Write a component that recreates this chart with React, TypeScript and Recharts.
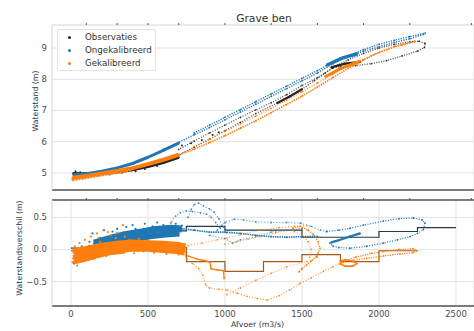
import React from 'react';
import { ComposedChart, Scatter, Line, XAxis, YAxis, CartesianGrid } from 'recharts';

type Pt = [number, number];

const FONT = '"DejaVu Sans", sans-serif';
const BLAUW = '#1f77b4';
const ORANJE = '#ff7f0e';
const ZWART = '#262626';
const STAP_ONG = '#26394a';
const STAP_GEK = '#a65a1c';

// as-ticks
const afvoerTicks = [0, 500, 1000, 1500, 2000, 2500];
const kleineTicks = [-100, 0, 100, 200, 300, 400, 500, 600, 700, 800, 900, 1000, 1100, 1200, 1300, 1400, 1500, 1600, 1700, 1800, 1900, 2000, 2100, 2200, 2300, 2400, 2500, 2600];
const waterstandTicks = [5, 6, 7, 8, 9];
const verschilTicks = [-0.5, 0, 0.5];

const legenda = [
  { naam: 'Observaties', kleur: ZWART },
  { naam: 'Ongekalibreerd', kleur: BLAUW },
  { naam: 'Gekalibreerd', kleur: ORANJE },
];

// ---- bovenste paneel: waterstand (m) tegen afvoer (m3/s)
const obsLaag: Pt[] = [[15, 4.98], [100, 4.97], [200, 4.98], [300, 5.03], [400, 5.1], [500, 5.2], [600, 5.33], [700, 5.5]];
const obsStijgend: Pt[] = [[600, 5.35], [700, 5.57], [800, 5.82], [900, 6.08], [1000, 6.35], [1100, 6.62], [1200, 6.9], [1340, 7.24], [1420, 7.45], [1500, 7.68], [1580, 7.95], [1650, 8.2], [1700, 8.37]];
const obsDik: Pt[] = [[1340, 7.24], [1420, 7.45], [1500, 7.68]];
const obsLus: Pt[] = [[1700, 8.38], [1800, 8.62], [1900, 8.83], [2000, 9.0], [2100, 9.12], [2200, 9.2], [2260, 9.22], [2300, 9.15], [2295, 9.02], [2250, 8.9], [2150, 8.75], [2050, 8.6], [1950, 8.5], [1850, 8.44], [1750, 8.4], [1700, 8.38]];
const obsLusDik: Pt[] = [[1690, 8.38], [1780, 8.5], [1880, 8.56]];
const obsDalend: Pt[] = [[1700, 8.36], [1600, 8.05], [1500, 7.8], [1400, 7.5], [1300, 7.25], [1200, 7.02], [1100, 6.78], [1000, 6.53], [900, 6.28], [800, 6.02], [700, 5.75]];
const obsLos: Pt[] = [[20, 4.9], [30, 5.05], [45, 4.93], [60, 5.02], [250, 4.95], [330, 5.0], [420, 5.05], [480, 5.12], [560, 5.22], [720, 5.88], [780, 5.95], [850, 6.05], [920, 6.21], [960, 6.3]];

const ongLaag: Pt[] = [[15, 4.94], [100, 4.97], [200, 5.05], [300, 5.16], [400, 5.3], [500, 5.5], [600, 5.72], [700, 5.95]];
const ongStijgend: Pt[] = [[600, 5.75], [700, 5.98], [800, 6.22], [900, 6.45], [1000, 6.7], [1100, 6.95], [1200, 7.2], [1300, 7.45], [1400, 7.7], [1500, 7.95], [1600, 8.2], [1700, 8.5], [1800, 8.75], [1900, 8.95], [2000, 9.12], [2100, 9.25], [2200, 9.37], [2300, 9.48]];
const ongDalend: Pt[] = [[2290, 9.44], [2200, 9.3], [2100, 9.18], [2000, 9.04], [1900, 8.9], [1800, 8.74], [1700, 8.55], [1600, 8.28], [1500, 8.03], [1400, 7.78], [1300, 7.53], [1200, 7.28], [1100, 7.03], [1000, 6.78], [900, 6.53], [800, 6.28]];
const ongDik: Pt[] = [[1660, 8.45], [1760, 8.68], [1860, 8.82]];

const gekLaag: Pt[] = [[10, 4.84], [100, 4.9], [200, 4.98], [300, 5.06], [400, 5.15], [500, 5.28], [600, 5.42], [700, 5.58]];
const gekLaag2: Pt[] = [[10, 4.78], [80, 4.83], [180, 4.92], [280, 5.0], [380, 5.08]];
const gekStijgend: Pt[] = [[700, 5.58], [800, 5.76], [900, 5.97], [1000, 6.19], [1100, 6.43], [1200, 6.67], [1300, 6.93], [1400, 7.19], [1500, 7.46], [1600, 7.75], [1700, 8.05], [1800, 8.35], [1900, 8.62], [2000, 8.86], [2100, 9.05], [2230, 9.2]];
const gekDalend: Pt[] = [[2230, 9.22], [2150, 9.1], [2050, 8.95], [1950, 8.76], [1870, 8.58], [1800, 8.45], [1700, 8.16], [1600, 7.88], [1500, 7.6], [1400, 7.33], [1300, 7.07], [1200, 6.82], [1100, 6.57], [1000, 6.33], [900, 6.08], [800, 5.85]];
const gekDik: Pt[] = [[1650, 8.08], [1750, 8.34], [1870, 8.57]];

// ---- onderste paneel: waterstandsverschil (m)
const ongWolk1: Pt[] = [[150, 0.1], [250, 0.17], [350, 0.23], [450, 0.27], [550, 0.31], [650, 0.33], [720, 0.32]];
const ongWolk2: Pt[] = [[100, 0.0], [200, 0.06], [300, 0.12], [400, 0.16], [500, 0.2], [600, 0.23], [700, 0.25]];
const ongWolk3: Pt[] = [[20, -0.12], [60, -0.07], [120, -0.02], [200, 0.03], [300, 0.08]];
const ongLos: Pt[] = [[20, -0.22], [35, 0.0], [50, -0.15], [70, 0.05], [95, -0.1], [120, 0.12], [140, 0.25], [165, 0.0], [190, 0.18], [215, 0.3], [240, 0.05], [270, 0.28], [300, 0.32], [330, 0.1], [360, 0.35], [400, 0.38], [440, 0.15], [480, 0.4], [520, 0.2], [560, 0.42], [600, 0.38], [640, 0.22], [680, 0.4], [720, 0.37], [260, 0.22], [310, 0.2], [420, 0.32], [470, 0.26], [530, 0.36], [590, 0.3], [660, 0.29], [700, 0.22], [210, 0.14], [160, 0.06]];
const ongBoogA: Pt[] = [[620, 0.32], [650, 0.42], [680, 0.52], [710, 0.57], [750, 0.6], [790, 0.59], [840, 0.57], [880, 0.55], [910, 0.5], [940, 0.42], [970, 0.33]];
const ongBoogB: Pt[] = [[760, 0.5], [780, 0.62], [800, 0.7], [830, 0.72], [860, 0.68], [900, 0.63], [930, 0.58], [960, 0.48], [990, 0.35], [1010, 0.26]];
const ongMidden1: Pt[] = [[950, 0.3], [1000, 0.42], [1060, 0.47], [1120, 0.46], [1200, 0.43], [1300, 0.42], [1400, 0.42], [1490, 0.41], [1560, 0.36], [1620, 0.3], [1660, 0.28]];
const ongMidden2: Pt[] = [[700, 0.33], [800, 0.3], [900, 0.27], [1000, 0.27], [1100, 0.25], [1200, 0.22], [1300, 0.2], [1400, 0.19], [1500, 0.2], [1600, 0.2]];
const ongMidden3: Pt[] = [[900, 0.22], [1000, 0.17], [1050, 0.1], [1100, 0.15], [1200, 0.2], [1300, 0.27], [1400, 0.3], [1500, 0.32]];
const ongLus: Pt[] = [[1660, 0.28], [1740, 0.3], [1812, 0.33], [1900, 0.38], [2028, 0.44], [2130, 0.48], [2223, 0.49], [2280, 0.46], [2299, 0.41], [2288, 0.31], [2250, 0.25], [2201, 0.2], [2120, 0.15], [2028, 0.1], [1920, 0.05], [1812, 0.02], [1740, 0.03], [1703, 0.05], [1682, 0.1]];
const ongLusDik: Pt[] = [[1690, 0.11], [1747, 0.15], [1810, 0.2], [1877, 0.25]];

const gekWolk1: Pt[] = [[15, -0.04], [100, 0.0], [200, 0.05], [300, 0.08], [400, 0.1], [500, 0.09], [600, 0.08], [700, 0.06], [740, 0.04]];
const gekWolk2: Pt[] = [[15, -0.14], [100, -0.1], [200, -0.04], [300, 0.0], [400, 0.02], [500, 0.02], [600, 0.0], [700, -0.02], [740, -0.04]];
const gekWolk3: Pt[] = [[20, -0.2], [80, -0.17], [150, -0.12], [250, -0.06], [350, -0.03]];
const gekLos: Pt[] = [[10, -0.2], [25, 0.05], [40, -0.25], [55, 0.1], [70, -0.18], [90, 0.15], [110, -0.12], [130, 0.2], [150, -0.15], [170, 0.25], [190, 0.12], [210, 0.3], [230, -0.1], [260, 0.22], [290, 0.18], [320, -0.05], [338, 0.38], [350, 0.2], [380, 0.15], [410, -0.06], [440, 0.17], [470, -0.03], [500, 0.14], [540, -0.05], [580, 0.12], [620, -0.07], [660, 0.1], [700, -0.08], [740, 0.08], [180, 0.18], [240, 0.27], [300, 0.26], [120, 0.06], [60, -0.05]];
const gekVal: Pt[] = [[720, 0.0], [745, -0.1], [753, -0.15], [790, -0.22], [830, -0.3], [857, -0.4], [875, -0.55], [900, -0.6], [960, -0.62], [1013, -0.63], [1080, -0.68], [1143, -0.73], [1210, -0.76], [1273, -0.79], [1350, -0.72], [1420, -0.63], [1487, -0.53], [1560, -0.44], [1640, -0.34], [1700, -0.27], [1768, -0.2]];
const gekKronkel: Pt[] = [[760, -0.1], [820, -0.15], [880, -0.18], [903, -0.2], [910, -0.3], [950, -0.32], [990, -0.33], [995, -0.45]];
const gekDiagonaal: Pt[] = [[1013, -0.7], [1100, -0.6], [1200, -0.48], [1300, -0.37], [1400, -0.27], [1532, -0.19], [1600, -0.12]];
const gekBoven1: Pt[] = [[760, 0.06], [850, 0.1], [950, 0.15], [1013, 0.18], [1100, 0.23], [1227, 0.3], [1350, 0.34], [1450, 0.36], [1532, 0.37]];
const gekBoven2: Pt[] = [[1000, 0.08], [1078, 0.12], [1150, 0.16], [1227, 0.2], [1330, 0.26], [1442, 0.31], [1500, 0.33]];
const gekS1: Pt[] = [[1440, 0.33], [1487, 0.36], [1540, 0.3], [1574, 0.23], [1605, 0.12], [1617, 0.02], [1605, -0.06], [1595, -0.11], [1560, -0.18], [1530, -0.24], [1500, -0.3], [1480, -0.35]];
const gekS2: Pt[] = [[1450, 0.28], [1500, 0.22], [1540, 0.12], [1560, 0.0], [1550, -0.12]];
const gekLusKlein: Pt[] = [[1747, -0.18], [1780, -0.16], [1830, -0.18], [1857, -0.22], [1830, -0.26], [1780, -0.26], [1747, -0.22], [1760, -0.19]];
const gekLusDun: Pt[] = [[1760, -0.2], [1850, -0.12], [1950, -0.06], [2028, -0.03], [2130, 0.0], [2223, 0.01], [2245, -0.02], [2220, -0.05], [2136, -0.07], [2030, -0.1], [1920, -0.14], [1830, -0.17]];

// gemiddeld verschil per afvoerklasse
const klasseGrenzen = [0, 250, 500, 750, 1000, 1250, 1500, 1750, 2000, 2250, 2500];
const ongStap = [0.02, 0.16, 0.29, 0.36, 0.3, 0.3, 0.19, 0.19, 0.28, 0.34, 0.34];
const gekStap = [-0.02, 0.03, 0.03, -0.19, -0.34, -0.19, -0.08, -0.19, -0.02, -0.02];

type Spoor = { id: string; pts: Pt[]; kleur: string; dikte: number; streep?: string; r: number; dekking?: number };

const bovenSporen: Spoor[] = [
  { id: 'obsLaag', pts: obsLaag, kleur: ZWART, dikte: 3, r: 1.1 },
  { id: 'obsLos', pts: obsLos, kleur: ZWART, dikte: 0, r: 1 },
  { id: 'obsStijgend', pts: obsStijgend, kleur: ZWART, dikte: 1.2, streep: '1 1.6', r: 0.9, dekking: 0.85 },
  { id: 'obsDalend', pts: obsDalend, kleur: ZWART, dikte: 1.2, streep: '1 1.6', r: 0.9, dekking: 0.85 },
  { id: 'obsDik', pts: obsDik, kleur: ZWART, dikte: 2.2, r: 1 },
  { id: 'obsLus', pts: obsLus, kleur: ZWART, dikte: 1.3, streep: '1 1.4', r: 0.9, dekking: 0.85 },
  { id: 'obsLusDik', pts: obsLusDik, kleur: ZWART, dikte: 2.2, r: 1 },
  { id: 'ongLaag', pts: ongLaag, kleur: BLAUW, dikte: 3, r: 1.1 },
  { id: 'ongStijgend', pts: ongStijgend, kleur: BLAUW, dikte: 1.4, streep: '1.2 1.3', r: 0.9 },
  { id: 'ongDalend', pts: ongDalend, kleur: BLAUW, dikte: 1.4, streep: '1.2 1.3', r: 0.9 },
  { id: 'ongDik', pts: ongDik, kleur: BLAUW, dikte: 3.5, r: 1 },
  { id: 'gekLaag', pts: gekLaag, kleur: ORANJE, dikte: 4, r: 1.1 },
  { id: 'gekLaag2', pts: gekLaag2, kleur: ORANJE, dikte: 3, streep: '2 1', r: 1.1 },
  { id: 'gekStijgend', pts: gekStijgend, kleur: ORANJE, dikte: 1.6, streep: '1.4 1', r: 0.9 },
  { id: 'gekDalend', pts: gekDalend, kleur: ORANJE, dikte: 1.2, streep: '1 1.6', r: 0.9 },
  { id: 'gekDik', pts: gekDik, kleur: ORANJE, dikte: 3, r: 1 },
];

const onderSporen: Spoor[] = [
  { id: 'ongWolk3', pts: ongWolk3, kleur: BLAUW, dikte: 4, r: 1.1 },
  { id: 'ongWolk2', pts: ongWolk2, kleur: BLAUW, dikte: 6, r: 1.1 },
  { id: 'ongWolk1', pts: ongWolk1, kleur: BLAUW, dikte: 7, r: 1.1 },
  { id: 'ongLos', pts: ongLos, kleur: BLAUW, dikte: 0, r: 1.1 },
  { id: 'ongBoogA', pts: ongBoogA, kleur: BLAUW, dikte: 1.1, streep: '1 2', r: 0.9, dekking: 0.8 },
  { id: 'ongBoogB', pts: ongBoogB, kleur: BLAUW, dikte: 1.1, streep: '1 2', r: 0.9, dekking: 0.8 },
  { id: 'ongMidden1', pts: ongMidden1, kleur: BLAUW, dikte: 1.1, streep: '1 2', r: 0.9, dekking: 0.8 },
  { id: 'ongMidden2', pts: ongMidden2, kleur: BLAUW, dikte: 1.6, streep: '1.5 0.8', r: 0.9 },
  { id: 'ongMidden3', pts: ongMidden3, kleur: BLAUW, dikte: 1.1, streep: '1 2', r: 0.9, dekking: 0.8 },
  { id: 'ongLus', pts: ongLus, kleur: BLAUW, dikte: 1.3, streep: '1 1.6', r: 0.9 },
  { id: 'ongLusDik', pts: ongLusDik, kleur: BLAUW, dikte: 2.2, r: 1 },
  { id: 'gekWolk3', pts: gekWolk3, kleur: ORANJE, dikte: 4, r: 1.1 },
  { id: 'gekWolk2', pts: gekWolk2, kleur: ORANJE, dikte: 7, r: 1.1 },
  { id: 'gekWolk1', pts: gekWolk1, kleur: ORANJE, dikte: 7, r: 1.1 },
  { id: 'gekLos', pts: gekLos, kleur: ORANJE, dikte: 0, r: 1.1 },
  { id: 'gekVal', pts: gekVal, kleur: ORANJE, dikte: 1.2, streep: '1 1.8', r: 0.9, dekking: 0.85 },
  { id: 'gekKronkel', pts: gekKronkel, kleur: ORANJE, dikte: 1.4, r: 0.9 },
  { id: 'gekDiagonaal', pts: gekDiagonaal, kleur: ORANJE, dikte: 1.1, streep: '1 2', r: 0.9, dekking: 0.8 },
  { id: 'gekBoven1', pts: gekBoven1, kleur: ORANJE, dikte: 1.1, streep: '1 2', r: 0.9, dekking: 0.8 },
  { id: 'gekBoven2', pts: gekBoven2, kleur: ORANJE, dikte: 1.1, streep: '1 2', r: 0.9, dekking: 0.8 },
  { id: 'gekS1', pts: gekS1, kleur: ORANJE, dikte: 1.3, streep: '1.2 1.2', r: 0.9 },
  { id: 'gekS2', pts: gekS2, kleur: ORANJE, dikte: 1.1, streep: '1 1.8', r: 0.9, dekking: 0.8 },
  { id: 'gekLusKlein', pts: gekLusKlein, kleur: ORANJE, dikte: 1.6, r: 0.9 },
  { id: 'gekLusDun', pts: gekLusDun, kleur: ORANJE, dikte: 1.3, streep: '1.2 1.2', r: 0.9 },
];

const rijen = (pts: Pt[]) => pts.map(([x, y]) => ({ x, y }));

const tekenSpoor = (s: Spoor) => (
  <Scatter
    key={s.id}
    data={rijen(s.pts)}
    fill={s.kleur}
    isAnimationActive={false}
    line={s.dikte > 0 ? {
      stroke: s.kleur,
      strokeWidth: s.dikte,
      strokeDasharray: s.streep,
      strokeLinecap: 'butt',
      strokeLinejoin: 'round',
      strokeOpacity: s.dekking ?? 1,
    } : false}
    shape={(p: any) => <circle cx={p.cx} cy={p.cy} r={s.r} fill={s.kleur} fillOpacity={s.dekking ?? 1} />}
  />
);

const tickStijl = { fill: '#4d4d4d', fontSize: 8.5, fontFamily: FONT };
const XDOMEIN: [number, number] = [-123, 2617];

export default function App() {
  return (
    <div style={{ position: 'absolute', left: 0, top: 0, width: 474, height: 331, background: '#fff', fontFamily: FONT, overflow: 'hidden' }}>
      <div style={{ position: 'absolute', left: 0, top: 0 }}>
        <ComposedChart width={474} height={192} margin={{ top: 24, right: 0, bottom: 1, left: 0 }}>
          <CartesianGrid stroke="#e3e3e3" strokeWidth={1} />
          <XAxis dataKey="x" type="number" domain={XDOMEIN} ticks={afvoerTicks} allowDataOverflow
            tick={false} tickLine={false} axisLine={{ stroke: '#555', strokeWidth: 1.3 }} height={1} />
          <XAxis xAxisId="klein" orientation="top" dataKey="x" type="number" domain={XDOMEIN} ticks={kleineTicks} allowDataOverflow
            tick={() => <g />} tickLine={{ stroke: '#555' }} tickSize={2} axisLine={{ stroke: '#e3e3e3' }} height={1} />
          <YAxis dataKey="y" type="number" domain={[4.45, 9.74]} ticks={waterstandTicks} allowDataOverflow width={52}
            tick={tickStijl} tickLine={false} tickSize={0} tickMargin={5} axisLine={{ stroke: '#e3e3e3' }} />
          {bovenSporen.map(tekenSpoor)}
        </ComposedChart>
      </div>
      <div style={{ position: 'absolute', left: 0, top: 192 }}>
        <ComposedChart width={474} height={139} margin={{ top: 7, right: 0, bottom: 0, left: 0 }}>
          <CartesianGrid stroke="#e3e3e3" strokeWidth={1} />
          <XAxis dataKey="x" type="number" domain={XDOMEIN} ticks={afvoerTicks} allowDataOverflow
            tick={tickStijl} tickLine={false} tickSize={0} tickMargin={5} axisLine={{ stroke: '#555', strokeWidth: 1.3 }} height={25} />
          <XAxis xAxisId="klein" orientation="top" dataKey="x" type="number" domain={XDOMEIN} ticks={kleineTicks} allowDataOverflow
            tick={() => <g />} tickLine={{ stroke: '#555' }} tickSize={2} axisLine={{ stroke: '#555', strokeWidth: 1.3 }} height={1} />
          <YAxis dataKey="y" type="number" domain={[-0.88, 0.77]} ticks={verschilTicks} allowDataOverflow width={52}
            tick={tickStijl} tickLine={false} tickSize={0} tickMargin={5} axisLine={{ stroke: '#e3e3e3' }}
            tickFormatter={(v: number) => (v < 0 ? '\u2212' + Math.abs(v).toFixed(1) : v.toFixed(1))} />
          {onderSporen.map(tekenSpoor)}
          <Line data={klasseGrenzen.map((x, i) => ({ x, y: ongStap[i] }))} dataKey="y" type="stepAfter"
            stroke={STAP_ONG} strokeWidth={1.2} dot={false} isAnimationActive={false} />
          <Line data={klasseGrenzen.slice(0, gekStap.length).map((x, i) => ({ x, y: gekStap[i] }))} dataKey="y" type="stepAfter"
            stroke={STAP_GEK} strokeWidth={1.2} dot={false} isAnimationActive={false} />
        </ComposedChart>
      </div>
      <svg width={474} height={331} style={{ position: 'absolute', left: 0, top: 0, pointerEvents: 'none' }}>
        <text x={264} y={21.5} textAnchor="middle" fontSize={10.7} fill="#333" fontFamily={FONT}>Grave ben</text>
        <text x={37.5} y={101} textAnchor="middle" fontSize={7.8} fill="#333" fontFamily={FONT}
          transform="rotate(-90 37.5 101)">Waterstand (m)</text>
        <text x={22} y={248} textAnchor="middle" fontSize={7.8} fill="#333" fontFamily={FONT}
          transform="rotate(-90 22 248)">Waterstandsverschil (m)</text>
        <text x={257.5} y={327} textAnchor="middle" fontSize={7.8} fill="#333" fontFamily={FONT}>Afvoer (m3/s)</text>
      </svg>
      <div style={{ position: 'absolute', left: 57, top: 29, width: 99, height: 42, boxSizing: 'border-box', border: '1px solid #e3e3e3', borderRadius: 2, background: 'rgba(255,255,255,0.85)' }}>
        {legenda.map((l, i) => (
          <div key={l.naam} style={{ position: 'absolute', left: 0, top: 1 + 13 * i, height: 13, width: 97 }}>
            <span style={{ position: 'absolute', left: 10, top: 5, width: 3, height: 3, borderRadius: 2, background: l.kleur }} />
            <span style={{ position: 'absolute', left: 27, top: 0, lineHeight: '13px', fontSize: 8.7, color: '#333', whiteSpace: 'nowrap' }}>{l.naam}</span>
          </div>
        ))}
      </div>
    </div>
  );
}
